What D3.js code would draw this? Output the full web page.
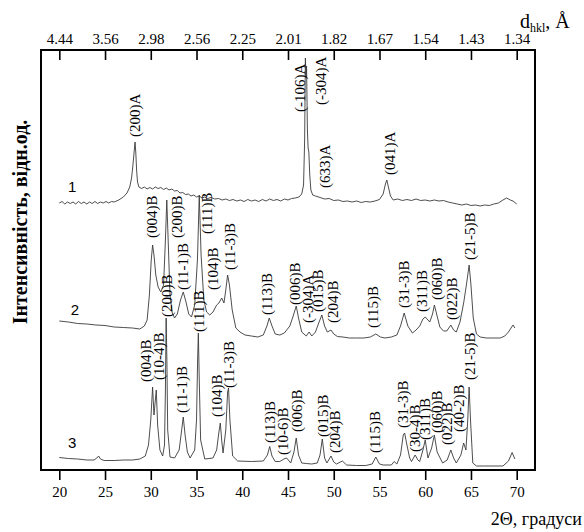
<!DOCTYPE html>
<html>
<head>
<meta charset="utf-8">
<script src="https://cdn.jsdelivr.net/npm/d3@7"></script>
<style>
  body { margin: 0; background: #fff; }
  svg { display: block; }
  text { font-family: "Liberation Serif", "Times New Roman", serif; fill: #000; }
</style>
</head>
<body>
<div id="chart"></div>
<script>
// 2theta ticks and the matching d-spacing labels (top axis)
const angleTicks = [20, 25, 30, 35, 40, 45, 50, 55, 60, 65, 70];
const dTickLabels = ["4.44", "3.56", "2.98", "2.56", "2.25", "2.01", "1.82", "1.67", "1.54", "1.43", "1.34"];

// pattern 1 : [2theta, intensity]
const pattern1 = [
  [20.0,267],[20.3,268.5],[20.6,266],[20.9,268],[21.2,266.5],[21.5,268],[21.8,266],[22.1,268.5],[22.4,266.5],
  [22.7,268],[23.0,266],[23.3,268],[23.6,266.5],[23.9,268.5],[24.2,266.5],[24.5,268],[24.8,267],[25.1,268.5],
  [25.4,267],[25.7,268.5],[26.0,268],[26.5,270],[27.0,273],
  [27.4,277],[27.7,283],[27.9,292],[28.05,305],[28.2,320],[28.28,328],[28.36,318],[28.45,300],[28.55,288],
  [28.7,283],[29.0,281.5],[29.3,283],[29.6,281],[29.9,282.5],[30.2,281],[30.5,283],[30.8,281.5],[31.1,282.5],
  [31.4,280.5],[31.7,282],[32.0,280],[32.3,281],[32.6,279],[32.9,279.5],[33.2,277],[33.5,277.5],[33.8,275.5],
  [34.1,276],[34.4,274],[34.7,275],[35.0,273],[35.3,274],[35.6,272],[35.9,273],[36.2,271.5],[36.6,272.5],
  [37.0,271],[37.4,271.5],[37.8,270],[38.2,271],[38.6,269.5],[39.0,270.5],[39.4,269],[39.8,270],[40.2,268.5],
  [40.6,270.5],[41.0,269],[41.4,270],[41.8,268.5],[42.2,270.5],[42.6,269],[43.0,271],[43.4,269.5],[43.8,270.5],
  [44.2,269],[44.6,271],[45.0,270],[45.4,271.5],[45.8,272],[46.2,273],[46.5,276],[46.7,285],[46.82,330],
  [46.9,412],[46.97,392],[47.03,404],[47.12,340],[47.2,322],[47.28,318],[47.38,295],[47.5,280],[47.7,275],
  [48.0,274],[48.5,272.5],[49.0,271],[49.5,271.5],[50.0,269.5],[50.5,270],[51.0,268.5],[51.5,269],[52.0,268],
  [52.5,269],[53.0,267.5],[53.5,268.5],[54.0,268],[54.5,269],[55.0,270.5],[55.4,276],[55.65,286],[55.8,290],
  [55.95,284],[56.2,274],[56.5,270],[57.0,271],[57.5,269.5],[58.0,270.5],[58.5,269.5],[59.0,271],[59.5,269.5],
  [60.0,270],[60.5,269],[61.0,270],[61.5,269],[62.0,269.5],[62.5,268],[63.0,267],[63.5,266],[64.0,265],
  [64.5,266],[65.0,264.5],[65.5,265],[66.0,264],[66.5,265],[67.0,264.5],[67.5,266],[68.0,267],[68.5,270],
  [68.9,272],[69.3,270],[69.6,269],[70.0,266]
];

// pattern 2
const pattern2 = [
  [20.0,149],[21.0,148],[22.0,146.5],[23.0,146],[24.0,145],[25.0,144.5],[26.0,143],[27.0,142.5],[28.0,142],
  [28.8,141],[29.3,144],[29.6,150],[29.85,175],[30.05,210],[30.2,225],[30.35,215],[30.55,195],[30.8,183],
  [31.1,178],[31.4,185],[31.6,230],[31.75,270],[31.9,230],[32.1,175],[32.35,157],[32.6,152],[32.9,156],
  [33.25,170],[33.55,178],[33.85,168],[34.15,156],[34.45,153],[34.8,165],[35.1,210],[35.3,275],[35.5,215],
  [35.8,170],[36.1,158],[36.45,155],[36.8,158],[37.2,165],[37.45,167],[37.75,172],[38.0,167],[38.2,180],
  [38.4,195],[38.6,185],[38.9,160],[39.3,142],[39.75,138],[40.3,135],[41.0,134],[41.7,133],[42.3,135],
  [42.7,144],[42.95,152],[43.25,144],[43.6,136],[44.1,135],[44.6,137],[45.2,144],[45.6,155],[45.9,164],
  [46.15,152],[46.5,138],[47.0,134],[47.3,138],[47.6,134],[48.0,138],[48.4,148],[48.7,155],[49.0,144],
  [49.3,138],[49.7,140],[50.0,136],[50.4,133.5],[51.0,133],[51.7,132],[52.5,132],[53.3,132],[54.0,133],
  [54.6,136],[55.1,133],[55.6,132],[56.3,133],[56.9,135],[57.3,144],[57.7,157],[58.1,144],[58.6,137],
  [59.0,140],[59.4,144],[59.75,151],[60.0,153],[60.5,148],[60.8,156],[61.0,165],[61.3,154],[61.6,143],
  [62.0,139],[62.35,139],[62.8,145],[63.1,140],[63.4,138],[63.8,148],[64.2,167],[64.5,185],[64.8,205],
  [65.0,185],[65.25,152],[65.6,136],[66.0,133],[66.7,132],[67.5,132],[68.2,132],[68.7,134],[69.1,138],
  [69.45,143],[69.6,145],[69.8,142]
];

// pattern 3
const pattern3 = [
  [20.0,12.5],[21.0,11.5],[22.0,11],[23.0,10],[23.8,10],[24.1,12],[24.3,14],[24.5,11],[24.9,9.5],[26.0,9.5],
  [27.0,10],[28.0,10],[28.8,11],[29.4,14],[29.75,25],[30.0,50],[30.2,83],[30.35,55],[30.45,65],[30.6,80],
  [30.75,45],[31.0,20],[31.3,14],[31.5,25],[31.6,80],[31.68,152],[31.76,110],[31.85,40],[32.1,13],[32.6,12],
  [33.1,20],[33.35,38],[33.55,53],[33.75,35],[34.0,18],[34.3,12],[34.8,20],[35.0,50],[35.12,110],[35.2,137],
  [35.3,90],[35.45,30],[35.9,11],[36.8,12],[37.2,20],[37.45,38],[37.6,47],[37.75,30],[37.9,17],[38.2,40],
  [38.4,78],[38.5,82],[38.65,50],[38.95,14],[39.5,9],[41.0,8.5],[42.3,9],[42.75,15],[43.0,23.5],[43.25,14],
  [43.6,8.5],[44.1,8.5],[44.55,11],[44.85,12],[45.3,7],[45.65,18],[45.9,32],[46.15,15],[46.5,7],[47.0,6.5],
  [47.6,6],[48.2,7],[48.5,15],[48.75,31],[49.0,12],[49.25,7],[49.7,14],[50.0,8],[50.3,6],[50.95,9],[51.4,5],
  [52.5,4.5],[53.5,4.5],[54.2,6],[54.6,13],[55.0,6],[55.4,5],[56.3,5],[56.6,8.5],[56.9,6],[57.3,15],[57.6,35],
  [57.75,37],[58.0,25],[58.3,12],[58.5,8.5],[58.9,15],[59.2,10],[59.4,8.5],[59.75,20],[60.0,30],[60.3,12],
  [60.7,22],[61.0,35],[61.3,18],[61.9,7],[62.4,10],[62.8,20],[63.1,12],[63.4,7],[63.9,15],[64.2,27],
  [64.45,20],[64.65,50],[64.8,83],[64.95,50],[65.2,7],[65.6,4],[66.5,4],[67.5,4],[68.5,4],[69.1,9],
  [69.5,17.5],[69.8,11]
];

// peak labels : [text, 2theta, intensity where label starts]
const labels1 = [
  ["(200)A", 28.27, 333], ["(-106)A", 46.3, 358], ["(-304)A", 48.6, 365],
  ["(633)A", 49.05, 282], ["(041)A", 56.15, 295]
];
const labels2 = [
  ["(004)B", 30.1, 232], ["(200)B", 32.83, 232], ["(111)B", 36.11, 236], ["(11-1)B", 33.49, 180],
  ["(104)B", 36.83, 180], ["(11-3)B", 38.66, 200], ["(113)B", 42.67, 155], ["(006)B", 45.77, 165],
  ["(-304)A", 47.19, 147], ["(015)B", 48.31, 158], ["(204)B", 49.95, 147], ["(115)B", 54.33, 142],
  ["(31-3)B", 57.68, 162], ["(311)B", 59.62, 158], ["(060)B", 61.26, 170], ["(022)B", 62.9, 150],
  ["(21-5)B", 64.9, 210]
];
const labels3 = [
  ["(004)B", 29.48, 88], ["(10-4)B", 30.9, 90], ["(200)B", 31.83, 153], ["(11-1)B", 33.38, 57],
  ["(111)B", 35.3, 138], ["(104)B", 37.2, 53], ["(11-3)B", 38.58, 82], ["(113)B", 43.03, 27],
  ["(10-6)B", 44.49, 15], ["(006)B", 45.95, 38], ["(015)B", 48.86, 33], ["(204)B", 50.14, 17],
  ["(115)B", 54.51, 17], ["(31-3)B", 57.6, 42], ["(30-4)B", 58.88, 18], ["(311)B", 59.98, 30],
  ["(060)B", 61.26, 37], ["(022)B", 62.35, 25], ["(40-2)B", 63.73, 38], ["(21-5)B", 64.9, 90]
];

// curve numbers : [name, 2theta, intensity]
const curveNames = [["1", 21.4, 278], ["2", 21.7, 155], ["3", 21.4, 22]];

const width = 584, height = 532;
const margin = { left: 41, right: 49, top: 50, bottom: 62 };

const svg = d3.select("#chart").append("svg")
    .attr("width", width)
    .attr("height", height);

const x = d3.scaleLinear().domain([18, 72]).range([margin.left, width - margin.right]);
const y = d3.scaleLinear().domain([0, 420]).range([height - margin.bottom, margin.top]);

// bottom axis (2theta)
const bottomAxis = svg.append("g")
    .attr("transform", `translate(0,${height - margin.bottom})`)
    .call(d3.axisBottom(x).tickValues(angleTicks).tickSize(10).tickPadding(6));
bottomAxis.select(".domain").remove();
bottomAxis.selectAll("line").attr("stroke", "#000").attr("stroke-width", 1.6);
bottomAxis.selectAll("text").attr("font-size", 15).attr("font-family", "Liberation Serif, serif");

// top axis (d spacing), ticks pointing inwards
const topAxis = svg.append("g")
    .attr("transform", `translate(0,${margin.top})`)
    .call(d3.axisTop(x).tickValues(angleTicks).tickFormat((d, i) => dTickLabels[i]).tickSize(-10).tickPadding(6));
topAxis.select(".domain").remove();
topAxis.selectAll("line").attr("stroke", "#000").attr("stroke-width", 1.6);
topAxis.selectAll("text").attr("font-size", 15).attr("font-family", "Liberation Serif, serif");

// frame
svg.append("rect")
    .attr("x", margin.left)
    .attr("y", margin.top)
    .attr("width", width - margin.left - margin.right)
    .attr("height", height - margin.top - margin.bottom)
    .attr("fill", "none")
    .attr("stroke", "#000")
    .attr("stroke-width", 2);

// diffraction curves
const line = d3.line().x(d => x(d[0])).y(d => y(d[1]));
[pattern1, pattern2, pattern3].forEach(p => {
  svg.append("path")
      .datum(p)
      .attr("fill", "none")
      .attr("stroke", "#3a3a3a")
      .attr("stroke-width", 0.9)
      .attr("stroke-linejoin", "round")
      .attr("d", line);
});

// peak labels, rotated
const allLabels = labels1.concat(labels2, labels3);
svg.append("g").selectAll("text")
  .data(allLabels)
  .join("text")
    .attr("transform", d => `translate(${x(d[1])},${y(d[2])}) rotate(-90)`)
    .attr("dy", "0.33em")
    .attr("font-size", 15)
    .text(d => d[0]);

// curve numbers
svg.append("g").selectAll("text")
  .data(curveNames)
  .join("text")
    .attr("x", d => x(d[1]))
    .attr("y", d => y(d[2]))
    .attr("text-anchor", "middle")
    .style("font-family", "Liberation Sans, Arial, sans-serif")
    .attr("font-size", 15)
    .text(d => d[0]);

// axis titles
svg.append("text")
    .attr("transform", "translate(20,222) rotate(-90)")
    .attr("dy", "0.35em")
    .attr("text-anchor", "middle")
    .attr("font-size", 20)
    .attr("font-weight", "bold")
    .text("Інтенсивність, відн.од.");

svg.append("text")
    .attr("x", 582)
    .attr("y", 525)
    .attr("text-anchor", "end")
    .attr("font-size", 18)
    .text("2Θ, градуси");

const dLabel = svg.append("text")
    .attr("x", 520)
    .attr("y", 28)
    .attr("font-size", 20);
dLabel.append("tspan").text("d");
dLabel.append("tspan").attr("font-size", 12).attr("dy", 4).text("hkl");
dLabel.append("tspan").attr("dy", -4).text(", Å");
</script>
</body>
</html>
